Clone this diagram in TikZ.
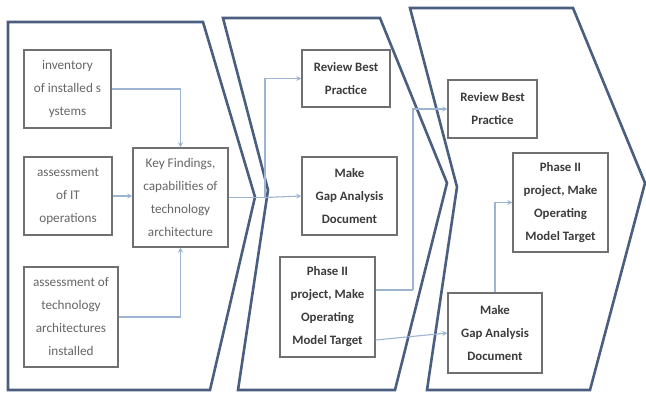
\documentclass[tikz,border=0pt]{standalone}
\usepackage{fontspec}
\setmainfont{Carlito}
\usetikzlibrary{arrows.meta}
\definecolor{chev}{HTML}{4A5E80}
\definecolor{boxline}{HTML}{707070}
\definecolor{conn}{HTML}{9DB4D3}
\definecolor{txtlight}{HTML}{666666}
\definecolor{txtdark}{HTML}{3C3C3C}
\tikzset{
  chevron/.style={draw=chev, line width=2.6pt, line join=miter, fill=white},
  lbox/.style={draw=boxline, line width=1.4pt, fill=white, align=center, inner sep=2pt,
    text=txtlight, font=\fontsize{13.2}{23}\selectfont},
  dbox/.style={draw=boxline, line width=1.4pt, fill=white, align=center, inner sep=2pt,
    text=txtdark, font=\bfseries\fontsize{12.8}{23}\selectfont},
  link/.style={draw=conn, line width=1.1pt, -{Stealth[length=5pt,width=5pt,open]}},
  plain/.style={draw=conn, line width=1.1pt}
}
\begin{document}
\begin{tikzpicture}[x=1pt,y=-1pt]
\useasboundingbox (0,0) rectangle (646,405);
\fill[white] (0,0) rectangle (646,405);
% chevrons
\draw[chevron] (8,22) -- (203,22) -- (255,197) -- (210,390) -- (8,390) -- cycle;
\draw[chevron] (223,18) -- (380,18) -- (447,183) -- (395,390) -- (238,390) -- (268,190) -- cycle;
\draw[chevron] (410,8) -- (573,8) -- (645,183) -- (590,390) -- (427,390) -- (457,187) -- cycle;
% column 1
\node[lbox, minimum width=87pt, minimum height=78pt] (A) at (67.5,89) {inventory\\of installed s\\ystems};
\node[lbox, minimum width=88pt, minimum height=78pt] (B) at (68,196) {assessment\\of IT\\operations};
\node[lbox, minimum width=94pt, minimum height=100pt] (C) at (71,317) {assessment of\\technology\\architectures\\installed};
\node[lbox, minimum width=95pt, minimum height=99pt] (K) at (180.5,197.5) {Key Findings,\\capabilities of\\technology\\architecture};
% column 2
\node[dbox, minimum width=88pt, minimum height=57pt] (R2) at (346,78.5) {Review Best\\Practice};
\node[dbox, minimum width=95pt, minimum height=78pt] (G2) at (349.5,196) {Make\\Gap Analysis\\Document};
\node[dbox, minimum width=95pt, minimum height=100pt] (P2) at (327.5,307) {Phase II\\project, Make\\Operating\\Model Target};
% column 3
\node[dbox, minimum width=89pt, minimum height=58pt] (R3) at (492.5,109) {Review Best\\Practice};
\node[dbox, minimum width=95pt, minimum height=99pt] (P3) at (560.5,202.5) {Phase II\\project, Make\\Operating\\Model Target};
\node[dbox, minimum width=94pt, minimum height=80pt] (G3) at (495,333) {Make\\Gap Analysis\\Document};
% connectors
\draw[link] (A.east) -| (K.north);
\draw[link] (B.east) -- (B.east -| K.west);
\draw[link] (C.east) -| (K.south);
\coordinate (split) at (265,197.5);
\draw[plain] (K.east) -- (split);
\draw[link] (split) |- (R2.west);
\draw[link] (split) -- (G2.west);
\coordinate (j2) at (413,290);
\draw[plain] ([yshift=17pt]P2.east) -- (j2);
\draw[link] (j2) |- (R3.west);
\draw[link] ([yshift=-33pt]P2.east) -- (G3.west);
\draw[link] (G3.north) |- (P3.west);
\end{tikzpicture}
\end{document}
